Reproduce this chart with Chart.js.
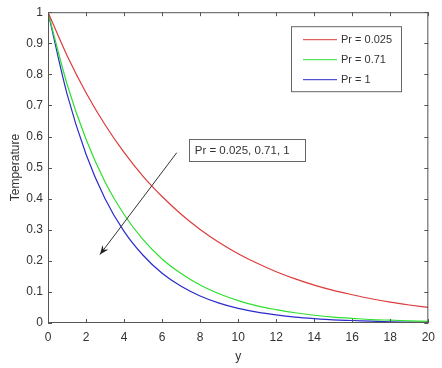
<!DOCTYPE html>
<html><head><meta charset="utf-8">
<script src="https://cdn.jsdelivr.net/npm/chart.js@4.4.0/dist/chart.umd.min.js"></script>
<style>html,body{margin:0;padding:0;background:#fff}#wrap{width:442px;height:368px}</style>
</head><body><div id="wrap"><canvas id="c" width="442" height="368"></canvas></div>
<script>
const yPositions = [0,1,2,3,4,5,6,7,8,9,10,11,12,13,14,15,16,17,18,19,20];
const seriesLabels = ['Pr = 0.025','Pr = 0.71','Pr = 1'];
const tempPr0025 = [1,0.861,0.741,0.638,0.549,0.472,0.407,0.350,0.301,0.259,0.223,0.192,0.165,0.142,0.122,0.105,0.091,0.078,0.067,0.058,0.050];
const tempPr071  = [1,0.769,0.591,0.454,0.349,0.268,0.206,0.159,0.122,0.094,0.072,0.055,0.043,0.033,0.025,0.019,0.015,0.011,0.009,0.007,0.005];
const tempPr1    = [1,0.737,0.543,0.400,0.295,0.218,0.160,0.118,0.087,0.064,0.047,0.035,0.026,0.019,0.014,0.010,0.008,0.006,0.004,0.003,0.002];
const annotationText = 'Pr = 0.025, 0.71, 1';
const colors = ['#dd3c3c','#2ee02e','#2b2bcc'];

const FONT = '"Liberation Sans", Arial, sans-serif';
const TXT = '#333';
const AX = '#555';

function pts(vals){ return yPositions.map((x,i)=>({x:x,y:vals[i]})); }

const overlay = {
  id:'overlay',
  afterDraw(chart){
    const ctx = chart.ctx, ca = chart.chartArea;
    const xs = chart.scales.x, ys = chart.scales.y;
    ctx.save();
    ctx.strokeStyle = AX; ctx.lineWidth = 1;
    ctx.strokeRect(ca.left+0.5, ca.top+0.5, ca.right-ca.left-1, ca.bottom-ca.top-1);
    const tl = 4;
    ctx.beginPath();
    xs.ticks.forEach(t=>{
      const px = Math.round(xs.getPixelForValue(t.value))+0.5;
      ctx.moveTo(px, ca.bottom); ctx.lineTo(px, ca.bottom-tl);
      ctx.moveTo(px, ca.top); ctx.lineTo(px, ca.top+tl);
    });
    ys.ticks.forEach(t=>{
      const py = Math.round(ys.getPixelForValue(t.value))+0.5;
      ctx.moveTo(ca.left, py); ctx.lineTo(ca.left+tl, py);
      ctx.moveTo(ca.right, py); ctx.lineTo(ca.right-tl, py);
    });
    ctx.stroke();

    // legend
    const lx = ca.left+243, ly = ca.top+14, lw = 110, lh = 65;
    ctx.fillStyle = '#fff';
    ctx.fillRect(lx, ly, lw, lh);
    ctx.strokeStyle = '#666';
    ctx.strokeRect(lx+0.5, ly+0.5, lw, lh);
    ctx.font = '11px ' + FONT;
    ctx.textBaseline = 'middle'; ctx.textAlign = 'left';
    chart.data.datasets.forEach((ds,i)=>{
      const yy = ly + 13 + i*20;
      ctx.strokeStyle = ds.borderColor; ctx.lineWidth = 1;
      ctx.beginPath(); ctx.moveTo(lx+12, yy+0.5); ctx.lineTo(lx+46, yy+0.5); ctx.stroke();
      ctx.fillStyle = TXT;
      ctx.fillText(ds.label, lx+50, yy+1);
    });

    // annotation box (data units)
    const bx0 = xs.getPixelForValue(7.4), bx1 = xs.getPixelForValue(13.5);
    const by0 = ys.getPixelForValue(0.592), by1 = ys.getPixelForValue(0.522);
    ctx.fillStyle = '#fff';
    ctx.fillRect(bx0, by0, bx1-bx0, by1-by0);
    ctx.strokeStyle = '#666'; ctx.lineWidth = 1;
    ctx.strokeRect(Math.round(bx0)+0.5, Math.round(by0)+0.5, Math.round(bx1-bx0), Math.round(by1-by0));
    ctx.fillStyle = TXT; ctx.textAlign='left'; ctx.textBaseline='middle';
    ctx.font = '11.5px ' + FONT;
    ctx.fillText(annotationText, bx0+6, (by0+by1)/2+1);

    // arrow
    const ax0 = xs.getPixelForValue(6.77), ay0 = ys.getPixelForValue(0.548);
    const ax1 = xs.getPixelForValue(2.73), ay1 = ys.getPixelForValue(0.22);
    ctx.strokeStyle = '#333'; ctx.lineWidth = 1;
    ctx.beginPath(); ctx.moveTo(ax0, ay0); ctx.lineTo(ax1, ay1); ctx.stroke();
    const ang = Math.atan2(ay1-ay0, ax1-ax0);
    const hl = 10, hw = 0.38;
    ctx.fillStyle = '#222';
    ctx.beginPath();
    ctx.moveTo(ax1, ay1);
    ctx.lineTo(ax1 - hl*Math.cos(ang-hw), ay1 - hl*Math.sin(ang-hw));
    ctx.lineTo(ax1 - hl*0.6*Math.cos(ang), ay1 - hl*0.6*Math.sin(ang));
    ctx.lineTo(ax1 - hl*Math.cos(ang+hw), ay1 - hl*Math.sin(ang+hw));
    ctx.closePath(); ctx.fill();
    ctx.restore();
  }
};

new Chart(document.getElementById('c'), {
  type:'line',
  data:{ datasets:[
    {label:seriesLabels[0], data:pts(tempPr0025), borderColor:colors[0]},
    {label:seriesLabels[1], data:pts(tempPr071), borderColor:colors[1]},
    {label:seriesLabels[2], data:pts(tempPr1), borderColor:colors[2]}
  ]},
  options:{
    responsive:false, animation:false, devicePixelRatio:1,
    layout:{padding:{left:0,right:13,top:9,bottom:0}},
    elements:{ line:{borderWidth:1.2, cubicInterpolationMode:'monotone', fill:false}, point:{radius:0} },
    plugins:{ legend:{display:false}, tooltip:{enabled:false} },
    scales:{
      x:{ type:'linear', min:0, max:20,
        ticks:{stepSize:2, color:TXT, font:{family:FONT,size:12}, padding:7, maxRotation:0},
        grid:{display:false, drawTicks:false}, border:{display:false},
        title:{display:true, text:'y', color:TXT, font:{family:FONT,size:12}, padding:{top:0,bottom:4}},
        afterFit(s){ s.height = 45; }
      },
      y:{ type:'linear', min:0, max:1,
        ticks:{stepSize:0.1, color:TXT, font:{family:FONT,size:12}, padding:5,
          callback:(v)=>String(Math.round(v*10)/10)},
        grid:{display:false, drawTicks:false}, border:{display:false},
        title:{display:true, text:'Temperature', color:TXT, font:{family:FONT,size:12}, padding:{top:8,bottom:0}},
        afterFit(s){ s.width = 48; }
      }
    }
  },
  plugins:[overlay]
});
</script></body></html>
